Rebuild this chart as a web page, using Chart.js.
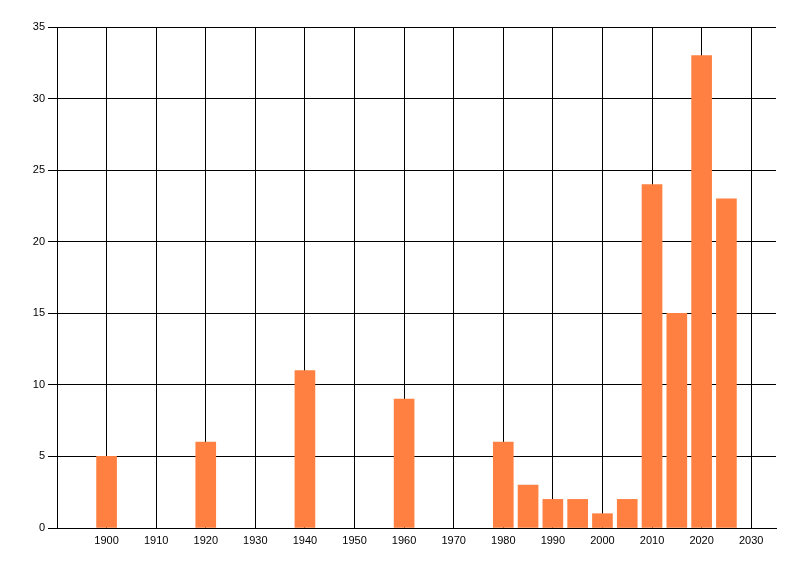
<!DOCTYPE html>
<html>
<head>
<meta charset="utf-8">
<script src="https://cdn.jsdelivr.net/npm/chart.js@4"></script>
<style>
  html, body { margin: 0; padding: 0; background: #fff; }
  #wrap { width: 800px; height: 576px; }
</style>
</head>
<body>
<div id="wrap"><canvas id="chart" width="800" height="576"></canvas></div>
<script>
const years = [1900, 1920, 1940, 1960, 1980, 1985, 1990, 1995, 2000, 2005, 2010, 2015, 2020, 2025];
const counts = [5, 6, 11, 9, 6, 3, 2, 2, 1, 2, 24, 15, 33, 23];
const xTickValues = [1900, 1910, 1920, 1930, 1940, 1950, 1960, 1970, 1980, 1990, 2000, 2010, 2020, 2030];

function renderChart(ctxId) {
    const ctx = document.getElementById(ctxId).getContext('2d');
    new Chart(ctx, {
        type: 'bar',
        data: {
            datasets: [{
                data: years.map((y, i) => ({ x: y, y: counts[i] })),
                backgroundColor: '#ff8040',
                barThickness: 20
            }]
        },
        options: {
            responsive: false,
            animation: false,
            layout: { padding: { left: 0, right: 24, top: 27, bottom: 0 } },
            plugins: { legend: { display: false }, tooltip: { enabled: false } },
            scales: {
                x: {
                    type: 'linear',
                    min: 1890,
                    max: 2035,
                    offset: false,
                    afterBuildTicks: s => { s.ticks = xTickValues.map(v => ({ value: v })); },
                    afterFit: s => { s.height = 48; },
                    grid: { color: '#000', lineWidth: 1, drawTicks: false, offset: false },
                    border: { color: '#000', width: 1 },
                    ticks: {
                        color: '#000',
                        padding: 6,
                        maxRotation: 0,
                        autoSkip: false,
                        font: { family: 'Liberation Sans', size: 11 },
                        callback: v => String(v)
                    }
                },
                y: {
                    min: 0,
                    max: 35,
                    afterFit: s => { s.width = 57; },
                    grid: { color: '#000', lineWidth: 1, tickLength: 9 },
                    border: { color: '#000', width: 1 },
                    ticks: {
                        stepSize: 5,
                        color: '#000',
                        padding: 3,
                        font: { family: 'Liberation Sans', size: 11 }
                    }
                }
            }
        }
    });
}

renderChart('chart');
</script>
</body>
</html>
